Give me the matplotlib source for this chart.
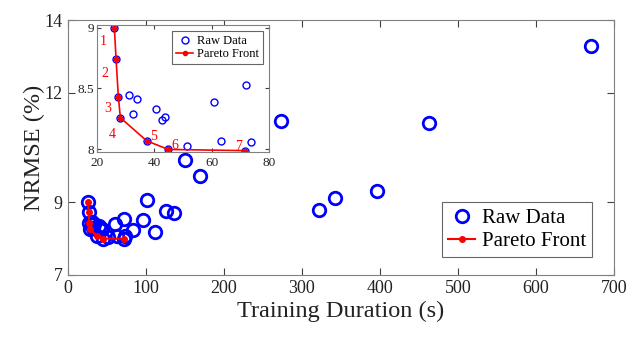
import matplotlib
matplotlib.use('Agg')
import matplotlib.pyplot as plt

plt.rcParams['font.family'] = ['Liberation Serif', 'DejaVu Serif']

# raw data: training duration (s) and NRMSE (%)
raw_t = [26.1, 26.7, 27.5, 28.2, 37.4, 44.9, 71.8,
         31.2, 34.1, 32.6, 40.7, 42.7, 43.9, 51.3, 60.7, 63.1, 72.0, 73.8,
         84, 96.6, 102, 112, 126.5, 136, 150.9, 169.6, 272.7,
         322, 342, 395.7, 463, 671]
raw_e = [9.0, 8.74, 8.43, 8.26, 8.07, 8.0, 7.99,
         8.45, 8.41, 8.29, 8.33, 8.24, 8.27, 8.03, 8.39, 8.07, 8.53, 8.06,
         8.22, 8.51, 9.06, 8.18, 8.76, 8.69, 10.15, 9.73, 11.24,
         8.78, 9.11, 9.30, 11.16, 13.29]

# pareto front
pareto_t = [26.1, 26.7, 27.5, 28.2, 37.4, 44.9, 71.8]
pareto_e = [9.0, 8.74, 8.43, 8.26, 8.07, 8.0, 7.99]
pareto_labels = ['1', '2', '3', '4', '5', '6', '7']
label_offsets = [(-8, -10), (-8, -10), (-8, -8), (-6, -12), (5, 3), (5, 3), (-5, 3)]

blue = '#0000ff'
red = '#ff0000'
gray = '#404040'

fig = plt.figure(figsize=(6.33, 3.39), dpi=100)
ax = fig.add_axes([0.107, 0.189, 0.863, 0.752])

ax.plot(raw_t, raw_e, 'o', mfc='none', mec=blue, mew=2, ms=9, label='Raw Data')
ax.plot(pareto_t, pareto_e, '-o', color=red, lw=1.5, ms=4, label='Pareto Front')
ax.set_xlim(0, 700)
ax.set_ylim(7, 14)
ax.set_xticks(range(0, 701, 100))
ax.set_yticks([7, 9, 12, 14])
ax.set_xlabel('Training Duration (s)', fontsize=17.5, color='#222222', labelpad=3)
ax.set_ylabel('NRMSE (%)', fontsize=17.5, color='#222222', labelpad=0)
ax.tick_params(direction='in', top=True, right=True, labelsize=13,
               colors=gray, labelcolor='#222222', length=5)
for s in ax.spines.values():
    s.set_color('#808080')
leg = ax.legend(loc='lower right', fontsize=15, frameon=True, fancybox=False,
                edgecolor='#404040', borderpad=0.3, handlelength=1.3,
                handletextpad=0.3, labelspacing=0.15, borderaxespad=0,
                bbox_to_anchor=(0.96, 0.07))
leg.get_frame().set_linewidth(0.8)

# inset zoom on the pareto front
ins = fig.add_axes([0.153, 0.552, 0.272, 0.374])
ins.plot(raw_t, raw_e, 'o', mfc='none', mec=blue, mew=1, ms=5, label='Raw Data')
ins.plot(pareto_t, pareto_e, '-o', color=red, lw=1.2, ms=3, label='Pareto Front')
for t, e, lab, off in zip(pareto_t, pareto_e, pareto_labels, label_offsets):
    ins.annotate(lab, (t, e), xytext=off, textcoords='offset points',
                 color=red, fontsize=10, ha='center', va='center')
ins.set_xlim(20, 80)
ins.set_ylim(7.98, 9.02)
ins.set_xticks([20, 40, 60, 80])
ins.set_yticks([8, 8.5, 9])
ins.set_yticklabels(['8', '8.5', '9'])
ins.tick_params(direction='in', top=True, right=True, labelsize=9.5,
                colors=gray, labelcolor='#222222', length=3, pad=2)
ins.tick_params(axis='x', pad=4)
for s in ins.spines.values():
    s.set_color('#808080')
il = ins.legend(loc='upper right', fontsize=9, frameon=True, fancybox=False,
                edgecolor='#404040', borderpad=0.3, handlelength=1.4,
                handletextpad=0.3, labelspacing=0.1)
il.get_frame().set_linewidth(0.8)

fig.savefig('out.png', dpi=100)
